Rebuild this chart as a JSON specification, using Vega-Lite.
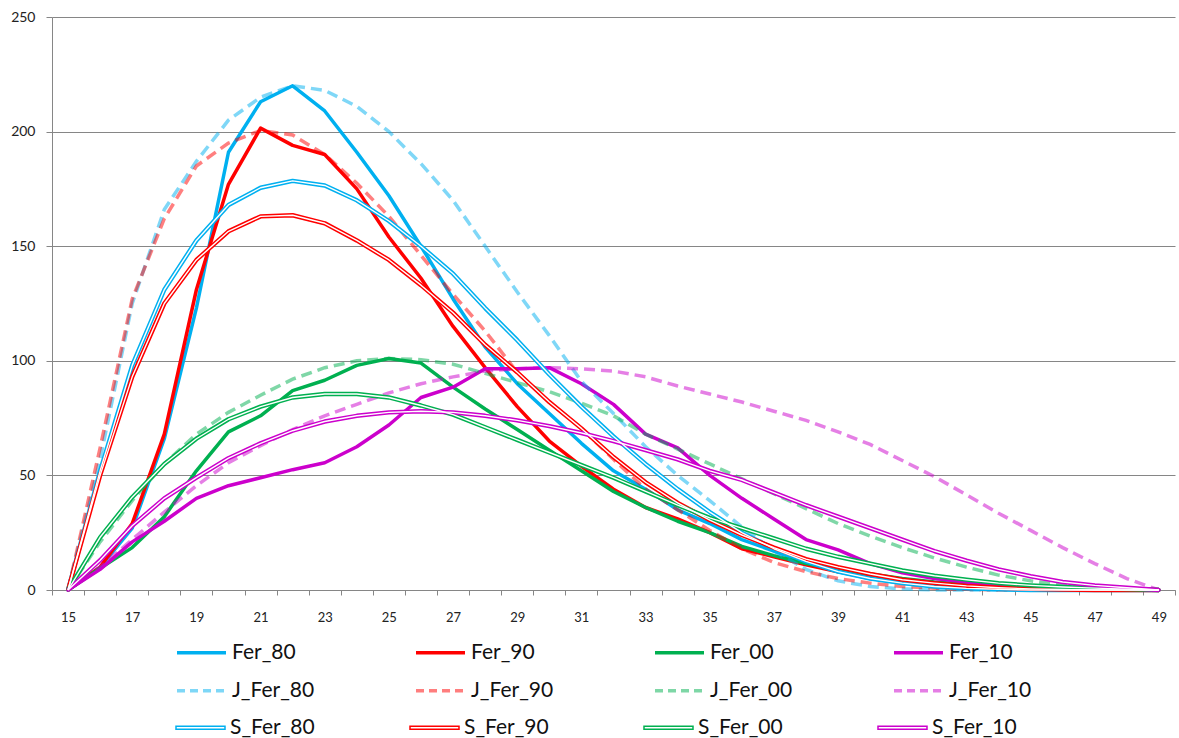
{
"$schema":"https://vega.github.io/schema/vega-lite/v6.json",
"width":1123,"height":573,
"autosize":{"type":"none"},
"padding":{"left":52,"top":17,"right":4,"bottom":148},
"background":"white",
"config":{"view":{"stroke":null},"font":"Lato"},
"data":{"values":[
{"age":15,"series":"Fer_80","value":0},{"age":16,"series":"Fer_80","value":10},{"age":17,"series":"Fer_80","value":27},{"age":18,"series":"Fer_80","value":66},{"age":19,"series":"Fer_80","value":123},{"age":20,"series":"Fer_80","value":191},{"age":21,"series":"Fer_80","value":213},{"age":22,"series":"Fer_80","value":220},{"age":23,"series":"Fer_80","value":209},{"age":24,"series":"Fer_80","value":191},{"age":25,"series":"Fer_80","value":172},{"age":26,"series":"Fer_80","value":150},{"age":27,"series":"Fer_80","value":127},{"age":28,"series":"Fer_80","value":106},{"age":29,"series":"Fer_80","value":90},{"age":30,"series":"Fer_80","value":77},{"age":31,"series":"Fer_80","value":64},{"age":32,"series":"Fer_80","value":52},{"age":33,"series":"Fer_80","value":44},{"age":34,"series":"Fer_80","value":35},{"age":35,"series":"Fer_80","value":29},{"age":36,"series":"Fer_80","value":22},{"age":37,"series":"Fer_80","value":17},{"age":38,"series":"Fer_80","value":12},{"age":39,"series":"Fer_80","value":8},{"age":40,"series":"Fer_80","value":5},{"age":41,"series":"Fer_80","value":3},{"age":42,"series":"Fer_80","value":1.5},{"age":43,"series":"Fer_80","value":0.8},{"age":44,"series":"Fer_80","value":0.4},{"age":45,"series":"Fer_80","value":0.2},{"age":46,"series":"Fer_80","value":0.1},{"age":47,"series":"Fer_80","value":0},{"age":48,"series":"Fer_80","value":0},{"age":49,"series":"Fer_80","value":0},
{"age":15,"series":"Fer_90","value":0},{"age":16,"series":"Fer_90","value":10},{"age":17,"series":"Fer_90","value":29},{"age":18,"series":"Fer_90","value":68},{"age":19,"series":"Fer_90","value":131},{"age":20,"series":"Fer_90","value":177},{"age":21,"series":"Fer_90","value":201.5},{"age":22,"series":"Fer_90","value":194},{"age":23,"series":"Fer_90","value":190},{"age":24,"series":"Fer_90","value":175},{"age":25,"series":"Fer_90","value":154},{"age":26,"series":"Fer_90","value":136},{"age":27,"series":"Fer_90","value":115},{"age":28,"series":"Fer_90","value":97},{"age":29,"series":"Fer_90","value":80},{"age":30,"series":"Fer_90","value":65},{"age":31,"series":"Fer_90","value":54},{"age":32,"series":"Fer_90","value":44},{"age":33,"series":"Fer_90","value":36},{"age":34,"series":"Fer_90","value":31},{"age":35,"series":"Fer_90","value":25},{"age":36,"series":"Fer_90","value":18},{"age":37,"series":"Fer_90","value":14.5},{"age":38,"series":"Fer_90","value":11},{"age":39,"series":"Fer_90","value":8},{"age":40,"series":"Fer_90","value":6},{"age":41,"series":"Fer_90","value":4},{"age":42,"series":"Fer_90","value":3},{"age":43,"series":"Fer_90","value":2},{"age":44,"series":"Fer_90","value":1.2},{"age":45,"series":"Fer_90","value":0.7},{"age":46,"series":"Fer_90","value":0.4},{"age":47,"series":"Fer_90","value":0.2},{"age":48,"series":"Fer_90","value":0.1},{"age":49,"series":"Fer_90","value":0},
{"age":15,"series":"Fer_00","value":0},{"age":16,"series":"Fer_00","value":9.5},{"age":17,"series":"Fer_00","value":18.5},{"age":18,"series":"Fer_00","value":32},{"age":19,"series":"Fer_00","value":52},{"age":20,"series":"Fer_00","value":69},{"age":21,"series":"Fer_00","value":76},{"age":22,"series":"Fer_00","value":87},{"age":23,"series":"Fer_00","value":91.5},{"age":24,"series":"Fer_00","value":98},{"age":25,"series":"Fer_00","value":101},{"age":26,"series":"Fer_00","value":99},{"age":27,"series":"Fer_00","value":88.5},{"age":28,"series":"Fer_00","value":79},{"age":29,"series":"Fer_00","value":70},{"age":30,"series":"Fer_00","value":61},{"age":31,"series":"Fer_00","value":52},{"age":32,"series":"Fer_00","value":43},{"age":33,"series":"Fer_00","value":36},{"age":34,"series":"Fer_00","value":30},{"age":35,"series":"Fer_00","value":25},{"age":36,"series":"Fer_00","value":19},{"age":37,"series":"Fer_00","value":15},{"age":38,"series":"Fer_00","value":11.5},{"age":39,"series":"Fer_00","value":9},{"age":40,"series":"Fer_00","value":7},{"age":41,"series":"Fer_00","value":5},{"age":42,"series":"Fer_00","value":3.5},{"age":43,"series":"Fer_00","value":2.5},{"age":44,"series":"Fer_00","value":1.5},{"age":45,"series":"Fer_00","value":1},{"age":46,"series":"Fer_00","value":0.6},{"age":47,"series":"Fer_00","value":0.3},{"age":48,"series":"Fer_00","value":0.1},{"age":49,"series":"Fer_00","value":0},
{"age":15,"series":"Fer_10","value":0},{"age":16,"series":"Fer_10","value":9},{"age":17,"series":"Fer_10","value":21},{"age":18,"series":"Fer_10","value":30},{"age":19,"series":"Fer_10","value":40},{"age":20,"series":"Fer_10","value":45.5},{"age":21,"series":"Fer_10","value":49},{"age":22,"series":"Fer_10","value":52.5},{"age":23,"series":"Fer_10","value":55.5},{"age":24,"series":"Fer_10","value":62.5},{"age":25,"series":"Fer_10","value":72},{"age":26,"series":"Fer_10","value":84},{"age":27,"series":"Fer_10","value":88.5},{"age":28,"series":"Fer_10","value":96.5},{"age":29,"series":"Fer_10","value":96.5},{"age":30,"series":"Fer_10","value":97},{"age":31,"series":"Fer_10","value":90},{"age":32,"series":"Fer_10","value":81},{"age":33,"series":"Fer_10","value":68},{"age":34,"series":"Fer_10","value":62},{"age":35,"series":"Fer_10","value":50},{"age":36,"series":"Fer_10","value":40},{"age":37,"series":"Fer_10","value":31},{"age":38,"series":"Fer_10","value":22},{"age":39,"series":"Fer_10","value":17.5},{"age":40,"series":"Fer_10","value":11.5},{"age":41,"series":"Fer_10","value":7.5},{"age":42,"series":"Fer_10","value":5},{"age":43,"series":"Fer_10","value":3.5},{"age":44,"series":"Fer_10","value":2},{"age":45,"series":"Fer_10","value":1.3},{"age":46,"series":"Fer_10","value":0.8},{"age":47,"series":"Fer_10","value":0.4},{"age":48,"series":"Fer_10","value":0.2},{"age":49,"series":"Fer_10","value":0},
{"age":15,"series":"J_Fer_80","value":0},{"age":16,"series":"J_Fer_80","value":57},{"age":17,"series":"J_Fer_80","value":125},{"age":18,"series":"J_Fer_80","value":166},{"age":19,"series":"J_Fer_80","value":187},{"age":20,"series":"J_Fer_80","value":205},{"age":21,"series":"J_Fer_80","value":215},{"age":22,"series":"J_Fer_80","value":220},{"age":23,"series":"J_Fer_80","value":218},{"age":24,"series":"J_Fer_80","value":211},{"age":25,"series":"J_Fer_80","value":200},{"age":26,"series":"J_Fer_80","value":186},{"age":27,"series":"J_Fer_80","value":170},{"age":28,"series":"J_Fer_80","value":150},{"age":29,"series":"J_Fer_80","value":130},{"age":30,"series":"J_Fer_80","value":111},{"age":31,"series":"J_Fer_80","value":91},{"age":32,"series":"J_Fer_80","value":77},{"age":33,"series":"J_Fer_80","value":62.5},{"age":34,"series":"J_Fer_80","value":50},{"age":35,"series":"J_Fer_80","value":39},{"age":36,"series":"J_Fer_80","value":27.5},{"age":37,"series":"J_Fer_80","value":17},{"age":38,"series":"J_Fer_80","value":9},{"age":39,"series":"J_Fer_80","value":4},{"age":40,"series":"J_Fer_80","value":1.5},{"age":41,"series":"J_Fer_80","value":0.5},{"age":42,"series":"J_Fer_80","value":0},{"age":43,"series":"J_Fer_80","value":0},{"age":44,"series":"J_Fer_80","value":0},{"age":45,"series":"J_Fer_80","value":0},{"age":46,"series":"J_Fer_80","value":0},{"age":47,"series":"J_Fer_80","value":0},{"age":48,"series":"J_Fer_80","value":0},{"age":49,"series":"J_Fer_80","value":0},
{"age":15,"series":"J_Fer_90","value":0},{"age":16,"series":"J_Fer_90","value":62},{"age":17,"series":"J_Fer_90","value":127},{"age":18,"series":"J_Fer_90","value":162},{"age":19,"series":"J_Fer_90","value":185},{"age":20,"series":"J_Fer_90","value":195},{"age":21,"series":"J_Fer_90","value":200.5},{"age":22,"series":"J_Fer_90","value":198.5},{"age":23,"series":"J_Fer_90","value":190},{"age":24,"series":"J_Fer_90","value":177.5},{"age":25,"series":"J_Fer_90","value":163},{"age":26,"series":"J_Fer_90","value":146},{"age":27,"series":"J_Fer_90","value":129},{"age":28,"series":"J_Fer_90","value":113},{"age":29,"series":"J_Fer_90","value":95},{"age":30,"series":"J_Fer_90","value":82},{"age":31,"series":"J_Fer_90","value":70.5},{"age":32,"series":"J_Fer_90","value":57},{"age":33,"series":"J_Fer_90","value":44},{"age":34,"series":"J_Fer_90","value":35},{"age":35,"series":"J_Fer_90","value":26},{"age":36,"series":"J_Fer_90","value":18},{"age":37,"series":"J_Fer_90","value":12},{"age":38,"series":"J_Fer_90","value":8},{"age":39,"series":"J_Fer_90","value":5},{"age":40,"series":"J_Fer_90","value":3},{"age":41,"series":"J_Fer_90","value":1.5},{"age":42,"series":"J_Fer_90","value":0.8},{"age":43,"series":"J_Fer_90","value":0.3},{"age":44,"series":"J_Fer_90","value":0},{"age":45,"series":"J_Fer_90","value":0},{"age":46,"series":"J_Fer_90","value":0},{"age":47,"series":"J_Fer_90","value":0},{"age":48,"series":"J_Fer_90","value":0},{"age":49,"series":"J_Fer_90","value":0},
{"age":15,"series":"J_Fer_00","value":0},{"age":16,"series":"J_Fer_00","value":21},{"age":17,"series":"J_Fer_00","value":39},{"age":18,"series":"J_Fer_00","value":55},{"age":19,"series":"J_Fer_00","value":68},{"age":20,"series":"J_Fer_00","value":77.5},{"age":21,"series":"J_Fer_00","value":85},{"age":22,"series":"J_Fer_00","value":92},{"age":23,"series":"J_Fer_00","value":97},{"age":24,"series":"J_Fer_00","value":100},{"age":25,"series":"J_Fer_00","value":101},{"age":26,"series":"J_Fer_00","value":100.5},{"age":27,"series":"J_Fer_00","value":98.5},{"age":28,"series":"J_Fer_00","value":94.5},{"age":29,"series":"J_Fer_00","value":90.5},{"age":30,"series":"J_Fer_00","value":86.5},{"age":31,"series":"J_Fer_00","value":81.5},{"age":32,"series":"J_Fer_00","value":76},{"age":33,"series":"J_Fer_00","value":68},{"age":34,"series":"J_Fer_00","value":61.5},{"age":35,"series":"J_Fer_00","value":55},{"age":36,"series":"J_Fer_00","value":48.5},{"age":37,"series":"J_Fer_00","value":42},{"age":38,"series":"J_Fer_00","value":35.5},{"age":39,"series":"J_Fer_00","value":29},{"age":40,"series":"J_Fer_00","value":23.5},{"age":41,"series":"J_Fer_00","value":18.5},{"age":42,"series":"J_Fer_00","value":14},{"age":43,"series":"J_Fer_00","value":10},{"age":44,"series":"J_Fer_00","value":6.5},{"age":45,"series":"J_Fer_00","value":4},{"age":46,"series":"J_Fer_00","value":2},{"age":47,"series":"J_Fer_00","value":1},{"age":48,"series":"J_Fer_00","value":0.4},{"age":49,"series":"J_Fer_00","value":0},
{"age":15,"series":"J_Fer_10","value":0},{"age":16,"series":"J_Fer_10","value":10},{"age":17,"series":"J_Fer_10","value":22},{"age":18,"series":"J_Fer_10","value":34},{"age":19,"series":"J_Fer_10","value":45.5},{"age":20,"series":"J_Fer_10","value":55.5},{"age":21,"series":"J_Fer_10","value":63},{"age":22,"series":"J_Fer_10","value":70},{"age":23,"series":"J_Fer_10","value":76},{"age":24,"series":"J_Fer_10","value":81},{"age":25,"series":"J_Fer_10","value":86},{"age":26,"series":"J_Fer_10","value":90},{"age":27,"series":"J_Fer_10","value":93},{"age":28,"series":"J_Fer_10","value":95.5},{"age":29,"series":"J_Fer_10","value":96.5},{"age":30,"series":"J_Fer_10","value":97},{"age":31,"series":"J_Fer_10","value":96.5},{"age":32,"series":"J_Fer_10","value":95.5},{"age":33,"series":"J_Fer_10","value":93},{"age":34,"series":"J_Fer_10","value":89},{"age":35,"series":"J_Fer_10","value":85.5},{"age":36,"series":"J_Fer_10","value":82},{"age":37,"series":"J_Fer_10","value":78},{"age":38,"series":"J_Fer_10","value":74},{"age":39,"series":"J_Fer_10","value":69},{"age":40,"series":"J_Fer_10","value":63.5},{"age":41,"series":"J_Fer_10","value":56.5},{"age":42,"series":"J_Fer_10","value":49.5},{"age":43,"series":"J_Fer_10","value":41.5},{"age":44,"series":"J_Fer_10","value":33.5},{"age":45,"series":"J_Fer_10","value":26},{"age":46,"series":"J_Fer_10","value":18.5},{"age":47,"series":"J_Fer_10","value":11.5},{"age":48,"series":"J_Fer_10","value":5},{"age":49,"series":"J_Fer_10","value":0},
{"age":15,"series":"S_Fer_80","value":0},{"age":16,"series":"S_Fer_80","value":52},{"age":17,"series":"S_Fer_80","value":98},{"age":18,"series":"S_Fer_80","value":131},{"age":19,"series":"S_Fer_80","value":152.5},{"age":20,"series":"S_Fer_80","value":168},{"age":21,"series":"S_Fer_80","value":175.5},{"age":22,"series":"S_Fer_80","value":178.5},{"age":23,"series":"S_Fer_80","value":176.5},{"age":24,"series":"S_Fer_80","value":170},{"age":25,"series":"S_Fer_80","value":161},{"age":26,"series":"S_Fer_80","value":150},{"age":27,"series":"S_Fer_80","value":138},{"age":28,"series":"S_Fer_80","value":123},{"age":29,"series":"S_Fer_80","value":109},{"age":30,"series":"S_Fer_80","value":94},{"age":31,"series":"S_Fer_80","value":80},{"age":32,"series":"S_Fer_80","value":67},{"age":33,"series":"S_Fer_80","value":55},{"age":34,"series":"S_Fer_80","value":44},{"age":35,"series":"S_Fer_80","value":34},{"age":36,"series":"S_Fer_80","value":25},{"age":37,"series":"S_Fer_80","value":18},{"age":38,"series":"S_Fer_80","value":12.5},{"age":39,"series":"S_Fer_80","value":8},{"age":40,"series":"S_Fer_80","value":5},{"age":41,"series":"S_Fer_80","value":3},{"age":42,"series":"S_Fer_80","value":1.5},{"age":43,"series":"S_Fer_80","value":0.7},{"age":44,"series":"S_Fer_80","value":0.3},{"age":45,"series":"S_Fer_80","value":0},{"age":46,"series":"S_Fer_80","value":0},{"age":47,"series":"S_Fer_80","value":0},{"age":48,"series":"S_Fer_80","value":0},{"age":49,"series":"S_Fer_80","value":0},
{"age":15,"series":"S_Fer_90","value":0},{"age":16,"series":"S_Fer_90","value":50},{"age":17,"series":"S_Fer_90","value":93},{"age":18,"series":"S_Fer_90","value":125},{"age":19,"series":"S_Fer_90","value":144},{"age":20,"series":"S_Fer_90","value":156.5},{"age":21,"series":"S_Fer_90","value":163},{"age":22,"series":"S_Fer_90","value":163.5},{"age":23,"series":"S_Fer_90","value":160},{"age":24,"series":"S_Fer_90","value":152.5},{"age":25,"series":"S_Fer_90","value":144},{"age":26,"series":"S_Fer_90","value":133},{"age":27,"series":"S_Fer_90","value":121},{"age":28,"series":"S_Fer_90","value":107},{"age":29,"series":"S_Fer_90","value":95},{"age":30,"series":"S_Fer_90","value":82},{"age":31,"series":"S_Fer_90","value":70.5},{"age":32,"series":"S_Fer_90","value":58},{"age":33,"series":"S_Fer_90","value":47},{"age":34,"series":"S_Fer_90","value":38},{"age":35,"series":"S_Fer_90","value":30.5},{"age":36,"series":"S_Fer_90","value":24},{"age":37,"series":"S_Fer_90","value":18.5},{"age":38,"series":"S_Fer_90","value":13.5},{"age":39,"series":"S_Fer_90","value":10},{"age":40,"series":"S_Fer_90","value":7},{"age":41,"series":"S_Fer_90","value":4.5},{"age":42,"series":"S_Fer_90","value":3},{"age":43,"series":"S_Fer_90","value":1.8},{"age":44,"series":"S_Fer_90","value":1},{"age":45,"series":"S_Fer_90","value":0.5},{"age":46,"series":"S_Fer_90","value":0.2},{"age":47,"series":"S_Fer_90","value":0},{"age":48,"series":"S_Fer_90","value":0},{"age":49,"series":"S_Fer_90","value":0},
{"age":15,"series":"S_Fer_00","value":0},{"age":16,"series":"S_Fer_00","value":23},{"age":17,"series":"S_Fer_00","value":40.5},{"age":18,"series":"S_Fer_00","value":55},{"age":19,"series":"S_Fer_00","value":66},{"age":20,"series":"S_Fer_00","value":74.5},{"age":21,"series":"S_Fer_00","value":80},{"age":22,"series":"S_Fer_00","value":84},{"age":23,"series":"S_Fer_00","value":85.5},{"age":24,"series":"S_Fer_00","value":85.5},{"age":25,"series":"S_Fer_00","value":84},{"age":26,"series":"S_Fer_00","value":80.5},{"age":27,"series":"S_Fer_00","value":76.5},{"age":28,"series":"S_Fer_00","value":71},{"age":29,"series":"S_Fer_00","value":65.5},{"age":30,"series":"S_Fer_00","value":60},{"age":31,"series":"S_Fer_00","value":54.5},{"age":32,"series":"S_Fer_00","value":49},{"age":33,"series":"S_Fer_00","value":43},{"age":34,"series":"S_Fer_00","value":37},{"age":35,"series":"S_Fer_00","value":31.5},{"age":36,"series":"S_Fer_00","value":27},{"age":37,"series":"S_Fer_00","value":22.5},{"age":38,"series":"S_Fer_00","value":18},{"age":39,"series":"S_Fer_00","value":14.5},{"age":40,"series":"S_Fer_00","value":11.5},{"age":41,"series":"S_Fer_00","value":8.5},{"age":42,"series":"S_Fer_00","value":6.2},{"age":43,"series":"S_Fer_00","value":4.5},{"age":44,"series":"S_Fer_00","value":3},{"age":45,"series":"S_Fer_00","value":2},{"age":46,"series":"S_Fer_00","value":1.3},{"age":47,"series":"S_Fer_00","value":0.8},{"age":48,"series":"S_Fer_00","value":0.4},{"age":49,"series":"S_Fer_00","value":0},
{"age":15,"series":"S_Fer_10","value":0},{"age":16,"series":"S_Fer_10","value":13},{"age":17,"series":"S_Fer_10","value":28},{"age":18,"series":"S_Fer_10","value":40},{"age":19,"series":"S_Fer_10","value":49},{"age":20,"series":"S_Fer_10","value":57.5},{"age":21,"series":"S_Fer_10","value":64},{"age":22,"series":"S_Fer_10","value":69.5},{"age":23,"series":"S_Fer_10","value":73.5},{"age":24,"series":"S_Fer_10","value":76},{"age":25,"series":"S_Fer_10","value":77.5},{"age":26,"series":"S_Fer_10","value":78},{"age":27,"series":"S_Fer_10","value":77.5},{"age":28,"series":"S_Fer_10","value":76},{"age":29,"series":"S_Fer_10","value":74},{"age":30,"series":"S_Fer_10","value":71.5},{"age":31,"series":"S_Fer_10","value":68.5},{"age":32,"series":"S_Fer_10","value":65},{"age":33,"series":"S_Fer_10","value":61},{"age":34,"series":"S_Fer_10","value":57},{"age":35,"series":"S_Fer_10","value":52},{"age":36,"series":"S_Fer_10","value":48},{"age":37,"series":"S_Fer_10","value":42.5},{"age":38,"series":"S_Fer_10","value":37},{"age":39,"series":"S_Fer_10","value":32},{"age":40,"series":"S_Fer_10","value":27},{"age":41,"series":"S_Fer_10","value":22},{"age":42,"series":"S_Fer_10","value":17},{"age":43,"series":"S_Fer_10","value":12.8},{"age":44,"series":"S_Fer_10","value":9},{"age":45,"series":"S_Fer_10","value":6},{"age":46,"series":"S_Fer_10","value":3.5},{"age":47,"series":"S_Fer_10","value":2},{"age":48,"series":"S_Fer_10","value":1},{"age":49,"series":"S_Fer_10","value":0}
]},
"encoding":{
"x":{"field":"age","type":"quantitative","scale":{"domain":[14.5,49.5],"nice":false,"zero":false},
 "axis":{"title":null,"grid":false,"values":[14.5,15.5,16.5,17.5,18.5,19.5,20.5,21.5,22.5,23.5,24.5,25.5,26.5,27.5,28.5,29.5,30.5,31.5,32.5,33.5,34.5,35.5,36.5,37.5,38.5,39.5,40.5,41.5,42.5,43.5,44.5,45.5,46.5,47.5,48.5,49.5],
  "labelExpr":"(datum.value + 0.5) % 2 == 1 ? '' + (datum.value + 0.5) : ''","labelOffset":16,"labelFlush":false,"labelOverlap":false,"labelBound":false,
  "tickSize":5,"tickColor":"#868686","domainColor":"#868686","labelFont":"Lato","labelFontSize":13,"labelColor":"#222222","labelPadding":16,"labelBaseline":"top"}},
"y":{"field":"value","type":"quantitative","scale":{"domain":[0,250],"nice":false},
 "axis":{"title":null,"values":[0,50,100,150,200,250],"grid":true,"gridColor":"#868686","gridWidth":1,"tickSize":6,"tickColor":"#868686","domainColor":"#868686","labelFont":"Lato","labelFontSize":14,"labelColor":"#222222","labelPadding":11}}
},
"resolve":{"scale":{"color":"independent"}},
"layer":[
{"transform":[{"filter":"indexof(datum.series,'Fer_')==0"}],
 "mark":{"type":"line","strokeWidth":3.5,"strokeJoin":"round","strokeCap":"round"},
 "encoding":{"color":{"field":"series","type":"nominal",
  "scale":{"domain":["Fer_80","Fer_90","Fer_00","Fer_10"],"range":["#00B0F0","#FF0000","#00B050","#CC00CC"]},
  "legend":{"title":null,"orient":"none","legendX":123,"legendY":609,"columns":4,"direction":"horizontal","symbolType":"stroke","symbolSize":2401,"symbolStrokeWidth":3.5,
   "labelFont":"Lato","labelFontSize":21,"labelColor":"#111111","labelOffset":4,"columnPadding":113,"labelLimit":300}}}},
{"transform":[{"filter":"indexof(datum.series,'J_')==0"}],
 "mark":{"type":"line","strokeWidth":3.5,"strokeDash":[11,6],"opacity":0.5},
 "encoding":{"color":{"field":"series","type":"nominal",
  "scale":{"domain":["J_Fer_80","J_Fer_90","J_Fer_00","J_Fer_10"],"range":["#00B0F0","#FF0000","#00B050","#CC00CC"]},
  "legend":{"title":null,"orient":"none","legendX":123,"legendY":647,"columns":4,"direction":"horizontal","symbolType":"stroke","symbolSize":2401,"symbolStrokeWidth":3.5,"symbolDash":[8,5],"symbolOpacity":0.5,
   "labelFont":"Lato","labelFontSize":21,"labelColor":"#111111","labelOffset":4,"columnPadding":94,"labelLimit":300}}}},
{"transform":[{"filter":"indexof(datum.series,'S_')==0"}],
 "mark":{"type":"line","strokeWidth":4.4,"strokeJoin":"round"},
 "encoding":{"color":{"field":"series","type":"nominal",
  "scale":{"domain":["S_Fer_80","S_Fer_90","S_Fer_00","S_Fer_10"],"range":["#00B0F0","#FF0000","#00B050","#CC00CC"]},
  "legend":{"title":null,"orient":"none","legendX":123,"legendY":685,"columns":4,"direction":"horizontal","symbolType":"M-1,-0.06L1,-0.06L1,0.06L-1,0.06Z","symbolSize":2401,"symbolStrokeWidth":1.5,"symbolFillColor":"#ffffff",
   "labelFont":"Lato","labelFontSize":21,"labelColor":"#111111","labelOffset":4,"columnPadding":92,"labelLimit":300}}}},
{"transform":[{"filter":"indexof(datum.series,'S_')==0"}],
 "mark":{"type":"line","strokeWidth":1.4,"color":"#ffffff","strokeJoin":"round"},
 "encoding":{"detail":{"field":"series","type":"nominal"}}}
]
}
